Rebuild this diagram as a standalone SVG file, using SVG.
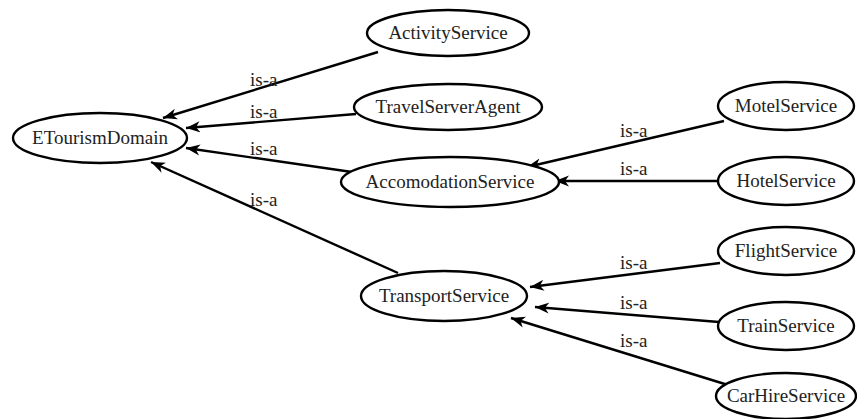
<svg xmlns="http://www.w3.org/2000/svg" width="857" height="419" viewBox="0 0 857 419" font-family="'Liberation Serif', 'Times New Roman', 'DejaVu Serif', serif">
<style>
.n ellipse{fill:#fff;stroke:#000;stroke-width:2.4}
.n text{font-family:'Liberation Serif','Times New Roman','DejaVu Serif',serif;font-size:19px;fill:#222;text-anchor:middle}
.e line{stroke:#000;stroke-width:2.4;marker-end:url(#ah)}
.e text{font-family:'Liberation Serif','Times New Roman','DejaVu Serif',serif;font-size:19px;fill:#222}
</style>
<defs>
<marker id="ah" markerUnits="userSpaceOnUse" markerWidth="15" markerHeight="12" refX="14" refY="5.5" orient="auto" viewBox="0 0 15 11">
<path d="M0,0 L14,5.5 L0,11 L4,5.5 z" fill="#000"/>
</marker>
</defs>
<rect width="857" height="419" fill="#fff"/>
<g id="edges" class="e">
<line x1="378" y1="52" x2="163" y2="118"/>
<line x1="356" y1="114" x2="186" y2="128"/>
<line x1="352" y1="172" x2="186" y2="148"/>
<line x1="398" y1="273" x2="151" y2="162"/>
<line x1="724" y1="121" x2="527" y2="167"/>
<line x1="717" y1="181" x2="555" y2="181"/>
<line x1="720" y1="263" x2="530" y2="287"/>
<line x1="719" y1="322" x2="535" y2="307"/>
<line x1="728" y1="385" x2="511" y2="318"/>
<text x="250" y="86">is-a</text>
<text x="250" y="118">is-a</text>
<text x="250" y="155">is-a</text>
<text x="250" y="206">is-a</text>
<text x="620" y="137">is-a</text>
<text x="620" y="175">is-a</text>
<text x="620" y="269">is-a</text>
<text x="620" y="309">is-a</text>
<text x="620" y="347">is-a</text>
</g>
<g id="ETourismDomain" class="n"><ellipse cx="100" cy="138" rx="87" ry="25"/><text x="100" y="144">ETourismDomain</text></g>
<g id="ActivityService" class="n"><ellipse cx="448" cy="33" rx="81" ry="23"/><text x="448" y="39">ActivityService</text></g>
<g id="TravelServerAgent" class="n"><ellipse cx="448" cy="107" rx="94" ry="23"/><text x="448" y="113">TravelServerAgent</text></g>
<g id="AccomodationService" class="n"><ellipse cx="450" cy="182" rx="109" ry="25"/><text x="450" y="188">AccomodationService</text></g>
<g id="TransportService" class="n"><ellipse cx="444" cy="296" rx="83" ry="25"/><text x="444" y="302">TransportService</text></g>
<g id="MotelService" class="n"><ellipse cx="786" cy="106" rx="68" ry="24"/><text x="786" y="112">MotelService</text></g>
<g id="HotelService" class="n"><ellipse cx="786" cy="181" rx="68" ry="24"/><text x="786" y="187">HotelService</text></g>
<g id="FlightService" class="n"><ellipse cx="786" cy="251" rx="68" ry="24"/><text x="786" y="257">FlightService</text></g>
<g id="TrainService" class="n"><ellipse cx="786" cy="326" rx="68" ry="24"/><text x="786" y="332">TrainService</text></g>
<g id="CarHireService" class="n"><ellipse cx="786" cy="396" rx="70" ry="23"/><text x="786" y="402">CarHireService</text></g>
</svg>
